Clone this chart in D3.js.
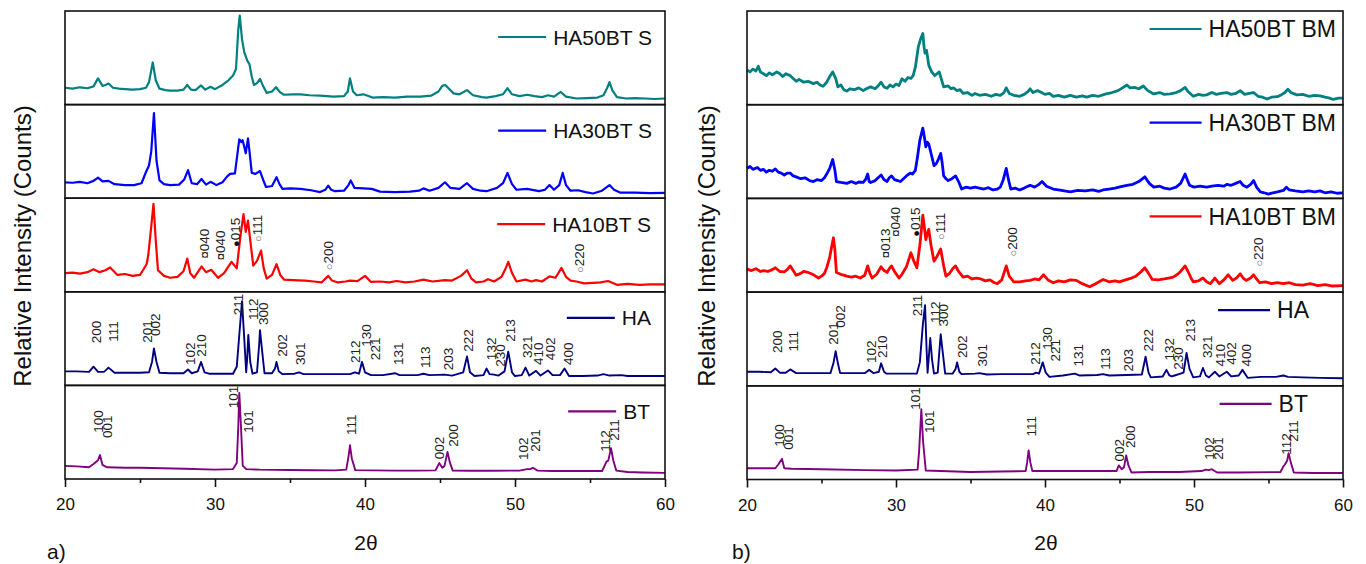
<!DOCTYPE html>
<html>
<head>
<meta charset="utf-8">
<script src="https://cdn.jsdelivr.net/npm/d3@7"></script>
<style>
  body { margin: 0; background: #fff; }
  text { font-family: "Liberation Sans", Arial, sans-serif; }
</style>
</head>
<body>
<svg id="chart" width="1366" height="564"></svg>
<script>
// ---- data: [2theta, relative intensity (% of sub-panel height)]
var namesS = ["HA50BT S", "HA30BT S", "HA10BT S", "HA", "BT"];
var namesBM = ["HA50BT BM", "HA30BT BM", "HA10BT BM", "HA", "BT"];
var colors = ["#008080", "#0000ff", "#ff0000", "#000080", "#800080"];
var majorTicks = [20, 30, 40, 50, 60];
var minorTicks = [25, 35, 45, 55];

var ha50S = [[20,18],[20.5,17],[21,18.5],[21.5,17.5],[21.9,19.5],[22.2,28],[22.5,20],[22.7,21],[22.9,22.5],[23.2,18],[23.6,17],[24,16.5],[24.5,16],[25,16.5],[25.4,18],[25.6,24],[25.85,45],[26.05,26],[26.3,17],[26.7,15.5],[27,15],[27.5,15],[27.9,16],[28.15,21],[28.4,16],[28.7,15.5],[29.07,20.5],[29.35,16],[29.7,19],[30,16.5],[30.5,21],[30.9,26],[31.2,31],[31.4,38],[31.55,80],[31.65,95],[31.8,70],[31.95,56],[32.15,47],[32.3,43],[32.45,30],[32.6,21],[32.8,23],[33.0,27.5],[33.2,20],[33.45,12.5],[33.8,14],[34.07,18.5],[34.35,13],[34.6,10.5],[35.2,11],[35.7,11],[36.3,10],[37,9.5],[37.9,8.5],[38.6,9],[38.85,14],[39.0,28],[39.2,14],[39.45,10],[39.9,11],[40.5,7.5],[41.2,8],[42,7.5],[42.8,8.5],[43.7,8.5],[44.4,9.5],[44.9,14],[45.15,20],[45.35,21],[45.6,17],[45.9,12],[46.3,11],[46.8,15.5],[47.2,10],[47.8,8],[48.1,7.5],[48.7,9],[49.2,11],[49.5,17.5],[49.8,11],[50.3,9],[50.8,10.5],[51.3,9],[51.8,8],[52.2,10],[52.6,8.5],[53.05,13.5],[53.4,8.5],[54.1,6.5],[54.8,7],[55.5,7.5],[55.9,10],[56.15,18],[56.3,24],[56.5,15],[56.8,8],[57.4,6.5],[58,7],[58.7,6.5],[59.3,6],[60,6.5]];
var ha30S = [[20,17],[20.5,16.5],[21,17.5],[21.5,16],[21.9,18.5],[22.2,22],[22.5,18],[22.9,18.5],[23.3,15],[24,14],[24.6,14],[25.1,16],[25.4,28],[25.6,35],[25.75,50],[25.93,91],[26.1,40],[26.3,19],[26.6,15],[27,14],[27.6,14.5],[27.95,20],[28.2,30],[28.45,16],[28.8,15],[29.1,20.5],[29.4,14.5],[29.7,17.5],[30.1,14],[30.5,17],[30.8,23],[31.0,26],[31.33,26.5],[31.5,48],[31.62,63],[31.75,60],[31.84,62],[31.95,55],[32.05,48],[32.2,64],[32.3,50],[32.45,27],[32.7,26],[33.0,29],[33.2,20],[33.4,12],[33.8,13],[34.1,22.5],[34.3,15],[34.5,10],[35,10.5],[35.7,10],[36.4,8.5],[37,6.5],[37.35,9],[37.55,13.5],[37.75,9],[38,7.5],[38.6,8],[38.9,14],[39.05,19],[39.3,11],[39.9,10.5],[40.45,10],[41,7],[42,6.5],[43,7],[43.6,8],[43.9,10.5],[44.3,8],[44.9,11],[45.33,17],[45.7,11],[46.3,10],[46.8,16],[47.2,10],[47.7,8],[48.1,7.5],[48.8,11],[49.2,16],[49.5,27],[49.8,15],[50.1,9],[50.8,10],[51.6,7.5],[52.0,9],[52.3,14],[52.6,9],[52.95,14],[53.18,27],[53.4,14],[53.7,8],[54.2,8.5],[54.7,6.5],[55.2,5],[55.8,8],[56.3,14],[56.6,9],[57,6],[58,6],[59,5.5],[60,5.7]];
var ha10S = [[20,20],[20.5,20.5],[21,19.5],[21.5,21],[21.9,24],[22.3,21],[22.7,23],[23.0,26],[23.25,22],[23.5,18],[24,19],[24.5,17],[25,18],[25.2,23],[25.45,30],[25.55,39],[25.75,70],[25.9,94],[26.05,55],[26.2,23],[26.6,17],[27,15],[27.5,16],[27.9,22],[28.15,35.5],[28.35,20],[28.6,15],[28.9,22],[29.1,27],[29.4,21],[29.75,23.5],[30.2,15],[30.6,20],[31.1,32],[31.45,25],[31.7,60],[31.9,83],[32.05,64],[32.2,76],[32.35,55],[32.55,28],[32.8,33],[33.07,44],[33.25,25],[33.45,14],[33.8,18],[34.1,29.5],[34.35,18],[34.6,13],[35.2,12.5],[36,12],[36.6,11],[37.1,10],[37.55,17],[37.8,12],[38.2,10],[38.7,11],[39.0,12],[39.5,11.5],[40.0,17],[40.4,10.5],[41,11],[41.6,10],[42.1,11.5],[42.7,10],[43.3,11],[43.9,13],[44.5,11],[45.33,12.5],[45.8,12],[46.4,17],[46.8,23],[47.1,14],[47.4,10],[47.9,11],[48.2,13.5],[48.6,11],[49.1,16],[49.35,24],[49.55,32],[49.8,20],[50.1,11],[50.7,13],[51.1,11],[51.4,12.5],[51.8,11],[52.3,16.5],[52.7,15],[53.1,25.5],[53.4,16],[53.7,12],[54.1,11],[54.6,9],[55.2,9.5],[55.7,10],[56.2,11.5],[56.8,7.5],[57.5,8.5],[58.3,7.5],[59,8],[60,8]];
var haS = [[20,15],[20.8,15],[21.6,14.5],[21.9,20],[22.2,14.5],[22.6,14.5],[22.9,19],[23.3,13.5],[24,13.5],[25,13.5],[25.6,14],[25.8,25],[25.93,39.5],[26.1,25],[26.3,13.5],[27,13],[27.9,13],[28.2,17],[28.45,13],[28.85,15],[29.07,25],[29.3,14],[29.6,12.5],[30.5,12.5],[31.2,12.5],[31.45,20],[31.65,60],[31.8,90],[31.95,50],[32.08,14],[32.15,30],[32.22,54],[32.35,25],[32.5,12.5],[32.8,14],[32.95,45],[33.0,59],[33.12,40],[33.3,13],[33.8,13],[34.0,18],[34.1,25],[34.25,15],[34.5,12],[35.3,12.5],[35.6,14],[35.9,12],[37,12],[38,12],[39.0,12],[39.33,14],[39.6,12.5],[39.8,25],[40.0,14],[40.4,11],[41.2,11],[42.0,13],[42.3,11],[43.5,11],[43.9,12.5],[44.3,11],[45.3,11.5],[45.8,10.5],[46.55,14],[46.8,31],[47.0,14],[47.3,10],[47.9,11],[48.1,18],[48.3,12],[48.6,11.5],[48.9,10.5],[49.3,15],[49.55,36],[49.8,14],[50.0,10],[50.45,11],[50.7,19],[50.95,10.5],[51.4,15.5],[51.7,10.5],[52.2,16],[52.5,11],[53.0,11],[53.3,18],[53.6,10],[54.5,10],[55.5,10.5],[55.9,12],[56.3,10.5],[57.1,11],[57.5,10],[58.5,10],[60,10]];
var btS = [[20,14],[20.8,13.5],[21.6,12.5],[21.9,16],[22.2,20],[22.33,25.6],[22.5,15],[22.8,12.5],[24,12],[25,12],[26.5,11.5],[28,11],[30,10],[31.2,10.6],[31.45,17],[31.55,55],[31.62,92],[31.72,60],[31.85,14],[32.1,10.5],[33,10],[34,9.8],[35,9.6],[36.5,9.3],[38,9.2],[38.75,10],[38.9,24],[39.0,36],[39.12,22],[39.35,9.5],[40.5,9.2],[42,9],[43.5,9],[44.7,9.2],[44.95,17],[45.15,12],[45.3,14],[45.5,29],[45.65,18],[45.85,9],[47,8.8],[48.5,8.8],[50.3,9],[50.8,10.5],[51.0,10.5],[51.2,12],[51.5,9],[52.5,8.5],[54,8.5],[55.8,8.5],[56.0,15],[56.1,18.5],[56.22,19.6],[56.4,33],[56.55,20],[56.75,9],[57.5,7.5],[58.5,7],[60,6.5]];

var ha50BM = [[20,37],[20.2,35],[20.4,38],[20.6,36],[20.76,41],[20.9,35],[21.1,33],[21.3,31],[21.5,34],[21.7,32],[22.0,35],[22.2,33],[22.4,30],[22.6,33],[22.9,31],[23.1,28],[23.3,25],[23.5,27],[23.8,24],[24.1,25],[24.45,22.5],[24.7,24],[24.9,21],[25.1,19.6],[25.35,24],[25.55,30],[25.75,35],[25.95,28],[26.1,19],[26.3,21],[26.5,16],[26.7,14.6],[26.9,17],[27.2,16],[27.5,18],[27.8,15],[28.0,17],[28.3,19],[28.6,17],[28.8,20],[29.0,24],[29.2,19],[29.4,17.5],[29.6,21],[29.8,19],[30.0,22],[30.2,20.5],[30.4,27.7],[30.6,25],[30.8,29],[31.0,28],[31.15,31],[31.3,40],[31.5,62],[31.65,70],[31.8,76],[31.88,62],[31.95,55],[32.05,58],[32.2,42],[32.4,35],[32.6,31],[32.75,33],[32.9,35],[33.05,27],[33.2,19],[33.5,20],[33.7,17],[33.85,18],[34.1,15],[34.3,16],[34.5,12],[34.8,13],[35.1,10],[35.3,12],[35.6,10],[36.0,11],[36.4,9],[36.7,11],[37.0,10],[37.25,13],[37.4,18],[37.6,12],[37.9,10],[38.3,9],[38.6,11],[38.85,14],[39.0,17],[39.2,13],[39.5,15],[39.7,13.6],[40.0,11],[40.3,12],[40.55,9],[40.9,10],[41.3,8],[41.7,10],[42.1,8],[42.5,9.5],[42.8,8],[43.2,10],[43.6,9],[44.1,11.5],[44.5,13],[44.9,15],[45.2,18],[45.5,21],[45.7,18],[46.0,18.5],[46.3,17],[46.6,20],[46.9,15],[47.3,11.5],[47.7,13],[48.0,11],[48.4,11.5],[48.8,13],[49.1,15],[49.4,18.5],[49.6,14],[49.95,9],[50.3,11],[50.6,10],[50.85,10.5],[51.2,13],[51.5,11],[51.8,12],[52.2,13],[52.5,11],[52.8,12],[53.1,15],[53.4,11],[53.7,12],[54.0,13],[54.3,9],[54.6,8],[54.9,6],[55.2,8],[55.6,8.6],[55.9,11],[56.1,13],[56.3,16.5],[56.5,13],[56.9,10.5],[57.3,11],[57.7,9],[58.1,10],[58.45,9.5],[58.8,8],[59.1,7],[59.35,5.6],[59.7,7],[60,7]];
var ha30BM = [[20,32],[20.2,34],[20.4,31],[20.7,33],[20.9,30],[21.1,31],[21.3,28],[21.5,30],[21.7,29],[21.9,31.5],[22.1,28],[22.3,27],[22.5,25],[22.7,27],[22.9,27],[23.1,24],[23.3,23],[23.6,21],[23.9,22],[24.2,19],[24.45,18],[24.7,20],[25.0,19],[25.2,22],[25.35,26],[25.55,32],[25.75,41.5],[25.9,30],[26.0,18],[26.3,17],[26.7,16],[27.0,18],[27.3,16],[27.5,17.5],[27.8,17],[27.95,20],[28.1,26],[28.2,18],[28.3,17],[28.6,19],[28.8,22],[29.0,25],[29.2,20],[29.4,18],[29.55,22],[29.7,24],[29.9,20],[30.1,19],[30.3,18],[30.5,21],[30.7,24],[30.95,27],[31.1,26],[31.3,30],[31.45,45],[31.6,62],[31.8,75],[31.9,66],[32.0,55],[32.1,60],[32.2,58],[32.4,45],[32.55,35],[32.7,37],[32.85,42],[33.0,48],[33.1,38],[33.2,24],[33.35,21],[33.5,19],[33.75,21],[34.0,24],[34.2,18],[34.4,10],[34.7,12],[35.0,11],[35.3,12],[35.6,11],[35.9,10],[36.2,11.5],[36.5,9],[36.8,10],[37.0,12],[37.2,20],[37.4,32],[37.55,20],[37.7,10],[38.0,11],[38.3,9],[38.6,11],[39.0,14],[39.3,12],[39.6,15],[39.8,18],[40.1,13],[40.55,10],[40.9,9],[41.3,8],[41.7,7],[42.2,8.5],[42.7,8],[43.2,9],[43.6,7.5],[43.9,9],[44.3,10],[44.7,11],[45.1,12.5],[45.5,14],[45.9,15],[46.3,18],[46.7,23],[47.0,16],[47.3,12],[47.7,13],[48.0,11],[48.4,10],[48.8,12],[49.1,16],[49.4,26],[49.55,20],[49.7,14],[50.0,12],[50.4,13],[50.85,12],[51.2,13],[51.6,14],[52.0,13],[52.2,15],[52.5,14],[52.8,16],[53.1,18],[53.3,14],[53.55,12],[53.8,15],[54.0,19],[54.2,12],[54.45,7],[54.7,6],[55.0,4.5],[55.3,6],[55.6,7],[56.0,8.5],[56.2,12],[56.4,9],[56.8,8],[57.3,7],[57.7,8],[58.1,7],[58.45,8],[58.8,6],[59.2,7],[59.6,5.5],[60,6]];
var ha10BM = [[20,24.5],[20.3,23],[20.6,25],[20.9,22],[21.1,23],[21.4,22],[21.7,24],[21.9,26],[22.2,22],[22.5,21.5],[22.7,24],[22.9,28],[23.1,23],[23.3,18],[23.6,20],[23.8,22],[24.1,21],[24.4,19],[24.6,17],[24.8,15],[25.0,17],[25.2,20],[25.35,26],[25.55,37],[25.7,50],[25.8,58],[25.9,45],[26.0,21],[26.3,19],[26.7,17],[27.0,16],[27.3,17],[27.6,15],[27.9,18],[28.1,28],[28.25,20],[28.4,15],[28.7,19],[29.0,27],[29.2,23],[29.4,21],[29.55,25],[29.7,28],[29.9,22],[30.2,15],[30.4,19],[30.7,27],[31.0,42],[31.2,33],[31.4,26],[31.6,50],[31.8,82],[31.9,70],[32.0,56],[32.1,62],[32.2,67],[32.35,50],[32.55,33],[32.75,38],[33.0,46],[33.2,28],[33.35,17],[33.6,20],[33.8,25],[34.0,28],[34.2,22],[34.5,16],[34.8,17],[35.1,14],[35.4,15],[35.7,14],[36.0,12],[36.3,13],[36.6,10],[36.8,9],[37.1,13],[37.4,28],[37.6,17],[37.9,11],[38.3,11],[38.7,12],[39.0,12.5],[39.3,14],[39.6,13],[39.9,18.5],[40.2,13],[40.55,10],[40.9,12],[41.3,11],[41.7,13],[42.1,12.5],[42.5,9],[43.0,5.7],[43.4,9],[43.9,13.5],[44.3,11],[44.7,12],[45.0,11],[45.4,13],[45.8,15],[46.1,17],[46.4,21],[46.7,26],[46.95,20],[47.2,13.5],[47.6,13],[48.0,14],[48.3,15],[48.6,16],[48.9,19],[49.1,22],[49.4,28],[49.6,22],[49.8,15],[49.95,11],[50.3,12],[50.6,15],[50.85,11],[51.1,9],[51.4,15],[51.7,9],[52.0,13],[52.3,18.5],[52.6,12.5],[52.85,15],[53.1,19.5],[53.3,15],[53.5,12.5],[53.8,15],[54.0,18.5],[54.2,14],[54.4,10],[54.8,11],[55.2,9],[55.6,10],[56.0,9],[56.4,10],[56.8,8],[57.3,7.5],[57.8,9],[58.3,7],[58.8,8],[59.3,6.5],[60,7]];
var haBM = [[20,15],[20.8,15],[21.6,14.5],[21.9,18.5],[22.2,14],[22.6,14],[22.9,17.5],[23.3,13.5],[24,13.5],[25,13.5],[25.6,13.5],[25.8,24],[25.95,37],[26.1,24],[26.25,13.5],[27,13.5],[27.9,13.5],[28.2,17],[28.5,13.5],[28.85,15],[29.0,24],[29.2,15],[29.35,13],[30.5,13],[31.4,13],[31.6,25],[31.8,65],[31.95,86],[32.05,40],[32.12,14],[32.2,30],[32.3,51],[32.42,28],[32.55,13],[32.8,14],[32.95,45],[33.0,55],[33.12,38],[33.3,13],[33.8,13],[34.0,18],[34.1,25],[34.25,15],[34.4,12.5],[35.3,13],[35.6,13.5],[36.1,12],[37,12.5],[38,12.5],[39.2,12.5],[39.4,14],[39.6,13],[39.85,25],[40.05,14],[40.3,9.5],[41.2,11],[42.0,13],[42.3,11],[43.5,11.5],[43.9,12.5],[44.3,11],[45.5,11.5],[46.5,12],[46.75,31],[46.95,14],[47.1,9],[47.9,10],[48.15,17],[48.35,11],[48.5,10],[48.7,11],[49.3,14],[49.5,35],[49.7,18],[49.95,9],[50.4,10],[50.6,19],[50.8,11],[51.0,9],[51.4,15],[51.7,10],[52.2,15],[52.5,10],[53.0,11],[53.25,17],[53.6,8.5],[54.5,9.5],[55.5,9.5],[56.0,11],[56.3,9.5],[57.3,9],[58.5,8.5],[60,8]];
var btBM = [[20,12],[21,12],[21.9,12],[22.1,16],[22.35,22],[22.5,12],[23,11.5],[25,11],[28,10],[30,9.6],[31.45,10.5],[31.55,30],[31.7,75],[31.82,40],[32.0,9.6],[33,9],[35,8],[37,8.5],[38.7,9],[38.8,18],[38.9,31],[39.02,18],[39.15,9],[41,9],[43,9],[44.8,9],[44.95,15],[45.15,11],[45.3,13],[45.45,25.6],[45.6,15],[45.8,7.5],[47,8],[49,8],[50.5,9],[50.8,10.5],[51.0,10],[51.2,11],[51.55,7.5],[53,7.5],[55.8,8],[56.0,14],[56.1,16],[56.25,20],[56.35,28],[56.5,18],[56.7,7.5],[58,7],[60,7]];

// peak index labels: [2theta, level where the text starts, label]
var hklS10 = [[29.29,35.5,"¤040"],[30.33,33.7,"¤040"],[31.33,47.9,"●015"],[32.78,53.2,"○111"],[37.55,23.1,"○200"],[54.29,20.2,"○220"]];
var hklS_HA = [[22.1,44.9,"200"],[23.2,46.6,"111"],[25.45,45.5,"201"],[26.0,52.7,"002"],[28.33,21.7,"102"],[29.1,30.6,"210"],[31.55,75,"211"],[32.55,69.8,"112"],[33.2,64.4,"300"],[34.45,30.6,"202"],[35.67,21.7,"301"],[39.33,23.8,"212"],[40.1,41.2,"130"],[40.67,27,"221"],[42.2,21.7,"131"],[44.0,18.5,"113"],[45.55,16.3,"203"],[46.9,35.9,"222"],[48.4,27,"132"],[49.0,19.9,"230"],[49.67,46.6,"213"],[50.8,29.2,"321"],[51.55,21.7,"410"],[52.33,27,"402"],[53.55,21.7,"400"]];
var hklS_BT = [[22.2,49.4,"100"],[22.78,43.8,"001"],[31.22,75.7,"101"],[32.22,49.4,"101"],[39.05,47,"111"],[44.95,21,"002"],[45.85,34.5,"200"],[50.55,20.3,"102"],[51.33,29.1,"201"],[56.0,29.1,"112"],[56.6,40.9,"211"]];
var hklBM10 = [[29.26,36.2,"¤013"],[29.93,59.1,"¤040"],[31.28,59.1,"●015"],[32.95,55.6,"○111"],[37.77,38,"○200"],[54.3,27.2,"○220"]];
var hklBM_HA = [[21.99,34.9,"200"],[23.1,36.6,"111"],[25.75,43.8,"201"],[26.24,61.9,"002"],[28.3,24.2,"102"],[29.04,29.6,"210"],[31.39,74.3,"211"],[32.62,66.9,"112"],[33.17,63.3,"300"],[34.41,29.6,"202"],[35.75,20.6,"301"],[39.33,22.4,"212"],[40.11,38.4,"130"],[40.67,25.9,"221"],[42.23,20.6,"131"],[44.03,17.1,"113"],[45.59,15.3,"203"],[46.93,36.6,"222"],[48.34,27,"132"],[48.95,17.1,"230"],[49.73,47.3,"213"],[50.85,29.6,"321"],[51.74,20.6,"410"],[52.46,22.4,"402"],[53.49,20.6,"400"]];
var hklBM_BT = [[22.17,35,"100"],[22.77,31.7,"001"],[31.28,74.4,"101"],[32.23,49.5,"101"],[39.04,45.9,"111"],[44.97,19.2,"002"],[45.7,33.5,"200"],[51.03,21,"102"],[51.63,21,"201"],[56.15,26.3,"112"],[56.62,40.4,"211"]];

var svg = d3.select("#chart");

function drawPanel(p) {
  var x = d3.scaleLinear().domain([20, 60]).range([p.x0, p.x1]);
  var h = (p.bottom - p.top) / 5;

  p.series.forEach(function (data, i) {
    var y = d3.scaleLinear().domain([0, 100]).range([p.top + (i + 1) * h, p.top + i * h]);
    var g = svg.append("g");

    g.append("path")
      .datum(data)
      .attr("fill", "none")
      .attr("stroke", colors[i])
      .attr("stroke-width", p.widths[i])
      .attr("stroke-linejoin", "round")
      .attr("d", d3.line().x(function (d) { return x(d[0]); }).y(function (d) { return y(d[1]); }));

    g.append("rect")
      .attr("x", p.x0).attr("y", p.top + i * h)
      .attr("width", p.x1 - p.x0).attr("height", h)
      .attr("fill", "none").attr("stroke", "#111").attr("stroke-width", 1.6);

    // legend
    var ly = p.top + i * h + p.legendDy;
    var lt = g.append("text")
      .attr("x", p.legendRight[i]).attr("y", ly).attr("dy", "0.36em")
      .attr("text-anchor", "end").attr("font-size", p.legendFont)
      .attr("fill", "#111").text(p.names[i]);
    var tx = p.legendRight[i] - lt.node().getComputedTextLength();
    g.append("line")
      .attr("x1", tx - 7 - p.legendLen).attr("x2", tx - 7)
      .attr("y1", ly).attr("y2", ly)
      .attr("stroke", colors[i]).attr("stroke-width", 2.2);

    // hkl labels
    (p.labels[i] || []).forEach(function (l) {
      var t = g.append("text")
        .attr("transform", "translate(" + x(l[0]) + "," + y(l[1]) + ") rotate(-90)")
        .attr("dy", "0.36em").attr("font-size", 13.5).attr("fill", "#222");
      var s = l[2];
      if ("¤●○".indexOf(s[0]) >= 0) {
        t.append("tspan").attr("font-size", s[0] == "¤" ? 13 : 11)
          .attr("fill", s[0] == "○" ? "#555" : "#111").text(s[0]);
        s = s.slice(1);
      }
      t.append("tspan").text(s);
    });
  });

  // x axis
  var ax = svg.append("g").attr("transform", "translate(0," + p.bottom + ")")
    .call(d3.axisBottom(x).tickValues(majorTicks).tickSize(8).tickPadding(11).tickFormat(d3.format("d")));
  ax.select(".domain").remove();
  ax.selectAll("line").attr("stroke", "#111").attr("stroke-width", 1.6);
  ax.selectAll("text").attr("font-size", 17).attr("fill", "#111")
    .attr("font-family", "'Liberation Sans', Arial, sans-serif");
  var mx = svg.append("g").attr("transform", "translate(0," + p.bottom + ")")
    .call(d3.axisBottom(x).tickValues(minorTicks).tickSize(4).tickFormat(""));
  mx.select(".domain").remove();
  mx.selectAll("line").attr("stroke", "#111").attr("stroke-width", 1.6);

  svg.append("text")
    .attr("transform", "translate(" + p.yTitleX + ",246) rotate(-90)")
    .attr("text-anchor", "middle").attr("font-size", 24).attr("fill", "#111")
    .text("Relative Intensity (Counts)");
  svg.append("text")
    .attr("x", (p.x0 + p.x1) / 2 + 1).attr("y", 550)
    .attr("text-anchor", "middle").attr("font-size", 21).attr("fill", "#111")
    .text("2θ");
  svg.append("text")
    .attr("x", p.tagX).attr("y", 559)
    .attr("font-size", 21).attr("fill", "#111")
    .text(p.tag);
}

drawPanel({
  x0: 65, x1: 665, top: 11, bottom: 479,
  series: [ha50S, ha30S, ha10S, haS, btS],
  widths: [2.2, 2.2, 2.2, 1.9, 1.9],
  names: namesS,
  legendRight: [652, 652, 651, 651, 650],
  legendDy: 26, legendFont: 21, legendLen: 48,
  labels: [null, null, hklS10, hklS_HA, hklS_BT],
  yTitleX: 31, tag: "a)", tagX: 47
});

drawPanel({
  x0: 747, x1: 1343, top: 11, bottom: 479.5,
  series: [ha50BM, ha30BM, ha10BM, haBM, btBM],
  widths: [2.8, 2.8, 2.8, 1.9, 1.9],
  names: namesBM,
  legendRight: [1336, 1336, 1336, 1309, 1308],
  legendDy: 18, legendFont: 23, legendLen: 52,
  labels: [null, null, hklBM10, hklBM_HA, hklBM_BT],
  yTitleX: 715, tag: "b)", tagX: 732
});
</script>
</body>
</html>
